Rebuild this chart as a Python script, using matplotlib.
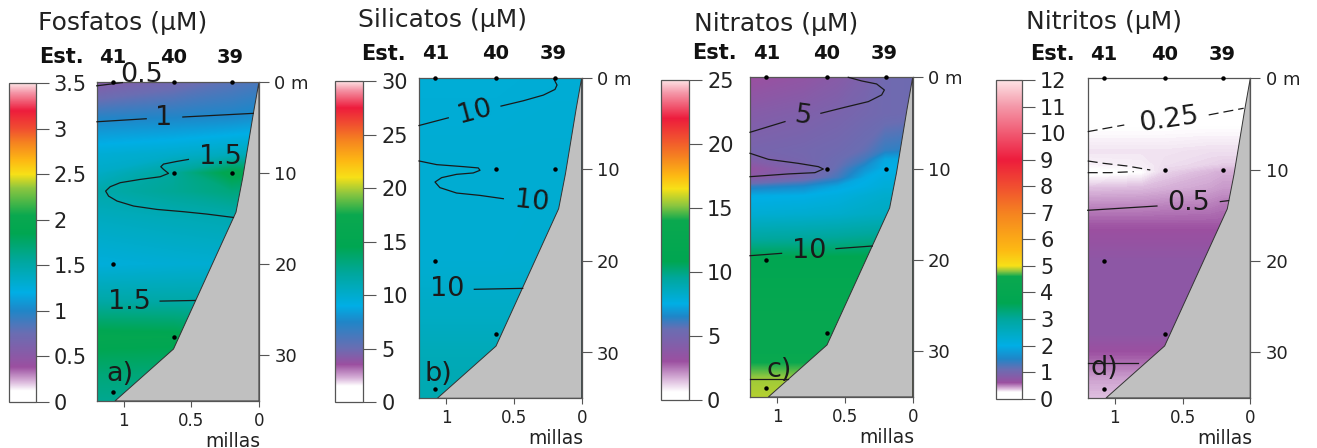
import numpy as np
import matplotlib
matplotlib.use('Agg')
import matplotlib.pyplot as plt
from matplotlib.cm import ScalarMappable
from matplotlib.colors import LinearSegmentedColormap, Normalize

W, H = 1317, 448
plt.rcParams['font.family'] = ['DejaVu Sans']

# colour sequence shared by the four colour scales
scale_colors = ['#ffffff', '#ffffff', '#d9b5da', '#9b4fa0', '#6a6db2', '#1f86c8',
                '#00aee5', '#00a79d', '#00a651', '#0aa84f', '#8dc63f', '#f7e017',
                '#fdb913', '#f58220', '#f04e30', '#ed1c3c', '#f497a8', '#fde4e6']
stops_a = [0, .12, .22, .38, .75, 1.0, 1.2, 1.55, 1.85, 2.05, 2.35, 2.5, 2.65, 2.85, 3.0, 3.2, 3.4, 3.5]
stops_b = [0, 1.5, 2.2, 3.5, 5, 7.5, 9, 12, 14.5, 17.5, 19.5, 21, 22.5, 24.5, 26, 27.5, 29.2, 30]
stops_c = [0, .6, 1.6, 3, 5.5, 6.5, 7.5, 9.5, 10.8, 14, 15.2, 16.5, 17.5, 19, 20.5, 22, 24, 25]
stops_d = [0, .25, .38, .6, 1.1, 1.5, 2, 3, 3.6, 4.6, 4.8, 5, 5.6, 7, 8, 9, 11, 12]

ticks_a = [0, .5, 1, 1.5, 2, 2.5, 3, 3.5]
ticks_b = [0, 5, 10, 15, 20, 25, 30]
ticks_c = [0, 5, 10, 15, 20, 25]
ticks_d = list(range(13))

# sections: distance (millas), depth (m), concentration
dist_a = [1.2, 0.63, 0.2, 0]
depth_a = [0, 4, 8, 10, 12, 15, 20, 24, 28, 32, 35]
conc_a = [[.52, .68, .8, .85],
          [.98, 1.0, 1.02, 1.05],
          [1.28, 1.33, 1.4, 1.42],
          [1.35, 1.55, 1.9, 1.85],
          [1.48, 1.58, 1.68, 1.65],
          [1.38, 1.42, 1.45, 1.45],
          [1.25, 1.28, 1.3, 1.3],
          [1.5, 1.5, 1.5, 1.5],
          [1.92, 1.9, 1.8, 1.8],
          [1.7, 1.7, 1.7, 1.7],
          [1.6, 1.6, 1.6, 1.6]]

dist_b = [1.2, 0.63, 0.2, 0]
depth_b = [0, 10, 20, 26, 30, 35]
conc_b = [[9.6, 9.6, 9.7, 9.7],
          [9.8, 9.8, 9.8, 9.8],
          [9.8, 9.8, 9.9, 9.9],
          [10.4, 10.4, 10.4, 10.4],
          [10.9, 10.9, 10.9, 10.9],
          [11.2, 11.2, 11.2, 11.2]]

dist_c = [1.2, 0.8, 0.55, 0.35, 0.2, 0]
depth_c = [0, 4, 8, 9, 10, 11, 12, 13, 15, 18, 20, 25, 30, 32, 33, 35]
conc_c = [[3.0, 3.5, 4.0, 4.6, 5.2, 5.3],
          [4.1, 4.4, 4.7, 5.0, 5.2, 5.3],
          [4.8, 5.0, 5.2, 5.6, 6.2, 6.4],
          [4.3, 4.9, 5.4, 6.0, 7.3, 7.4],
          [3.3, 4.6, 5.6, 6.8, 7.5, 7.5],
          [3.8, 5.0, 6.0, 7.4, 7.7, 7.7],
          [6.2, 6.6, 7.3, 7.6, 7.9, 7.9],
          [7.4, 7.5, 7.7, 8.0, 8.2, 8.2],
          [8.0, 8.1, 8.2, 8.4, 8.5, 8.5],
          [9.6, 9.7, 9.8, 9.9, 10, 10],
          [11, 11, 11, 11, 11, 11],
          [12.5, 12.5, 12.5, 12.5, 12.5, 12.5],
          [13, 13, 13, 13, 13, 13],
          [14.6, 14.6, 14.6, 14.6, 14.6, 14.6],
          [15.4, 15.4, 15.4, 15.4, 15.4, 15.4],
          [15.7, 15.7, 15.7, 15.7, 15.7, 15.7]]

dist_d = [1.2, 0.8, 0.63, 0.3, 0.2, 0]
depth_d = [0, 4, 8, 9.5, 10.3, 12, 14, 16, 20, 28, 30, 33, 35]
conc_d = [[.12, .12, .12, .12, .12, .12],
          [.22, .22, .22, .22, .22, .22],
          [.3, .3, .3, .31, .31, .31],
          [.27, .28, .31, .33, .34, .34],
          [.22, .25, .33, .38, .4, .4],
          [.36, .37, .39, .42, .44, .44],
          [.48, .48, .49, .5, .52, .52],
          [.58, .58, .58, .58, .58, .58],
          [.74, .74, .74, .74, .74, .74],
          [.74, .74, .74, .74, .74, .74],
          [.6, .6, .6, .6, .6, .6],
          [.42, .42, .42, .42, .42, .42],
          [.36, .36, .36, .36, .36, .36]]

# sea floor profile
floor_dist = [0, 0.042, 0.12, 0.17, 0.632, 1.065]
floor_depth = [0, 3.5, 10.5, 14.3, 29.3, 35]

# sampling points
sample_dist = [1.08, 0.632, 0.2, 0.632, 0.2, 1.08, 0.632, 1.08]
sample_depth = [0, 0, 0, 10, 10, 20, 28, 34]

# isolines: (distance, depth, dashed)
iso_a = [([1.2, 1.01], [.45, .1], False),
         ([1.198, .834], [4.39, 4.06], False),
         ([.563, .042], [3.87, 3.47], False),
         ([.522, .608, .706, .726, .706, .669, .731, .878, 1.026, 1.10, 1.134, 1.112, 1.05, .927, .755, .558, .386, .189],
          [8.52, 8.74, 9.03, 9.32, 9.61, 10.05, 10.42, 10.71, 11.07, 11.51, 11.99, 12.54, 13.08, 13.63, 14.0, 14.25, 14.51, 14.88], False),
         ([.731, .472], [24.05, 23.98], False)]
iso_b = [([1.2, .984], [5.22, 4.38], False),
         ([.595, .431, .283, .197, .182, .204], [3.10, 2.52, 1.9, 1.28, .8, .18], False),
         ([1.2, 1.07, .873, .763, .75, .8, .923, 1.033, 1.082, 1.046, .923, .75, .578],
          [9.09, 9.49, 9.71, 9.85, 10.11, 10.4, 10.55, 10.91, 11.39, 12.0, 12.59, 12.85, 13.21], False),
         ([.792, .435], [23.1, 23.0], False)]
iso_c = [([1.2, .942], [6.02, 4.85], False),
         ([.677, .5, .327, .229, .209, .266, .376, .475], [3.94, 3.28, 2.66, 1.93, 1.39, .73, .4, 0], False),
         ([1.2, 1.065, .844, .696, .659, .721, .918, 1.2], [8.32, 8.98, 9.42, 9.78, 10.04, 10.44, 10.58, 10.88], False),
         ([1.2, .967], [19.53, 19.27], False),
         ([.566, .298], [18.76, 18.47], False),
         ([1.2, .918], [33.07, 33.07], False)]
iso_d = [([1.2, .93], [5.84, 5.11], True),
         ([.307, .049], [4.01, 3.28], True),
         ([1.2, 1.082, .91, .738], [9.05, 9.31, 9.6, 10.04], True),
         ([1.2, 1.033, .861], [10.33, 10.33, 10.22], True),
         ([1.2, .689], [14.45, 13.98], False),
         ([.221, .16], [13.5, 13.39], False),
         ([1.2, .83], [31.2, 31.2], False)]

# isoline labels and panel letters: (distance, depth, text, rotation)
lab_a = [(.868, -.75, '0.5', 0), (.708, 4, '1', 0), (.288, 8.2, '1.5', 0), (.96, 24.2, '1.5', 0), (1.026, 32, 'a)', 0)]
lab_b = [(.787, 3.72, '10', 15), (.369, 13.6, '10', -6), (.991, 23.1, '10', 0), (1.058, 32.3, 'b)', 0)]
lab_c = [(.807, 4.3, '5', -8), (.763, 19, '10', 0), (.986, 32, 'c)', 0)]
lab_d = [(.603, 4.5, '0.25', 8), (.455, 13.7, '0.5', 0), (1.077, 31.75, 'd)', 0)]

titles = ['Fosfatos (µM)', 'Silicatos (µM)', 'Nitratos (µM)', 'Nitritos (µM)']
stations = ['41', '40', '39']
station_dist = [1.08, 0.635, 0.21]
depth_ticks = [0, 10, 20, 30]
depth_labels = ['0 m', '10', '20', '30']
dist_ticks = [1, 0.5, 0]
dist_labels = ['1', '0.5', '0']

# pixel boxes: axes (left, right, top, bottom), colour bar, title position, Est. position
panels = [
    dict(ax=(96.7, 259, 81.7, 401), cb=(9, 35.7, 83.3, 401.7), title=(38, 23), est=(39, 57),
         dist=dist_a, depth=depth_a, conc=conc_a, stops=stops_a, ticks=ticks_a, iso=iso_a, lab=lab_a),
    dict(ax=(419, 581.7, 77.7, 398.3), cb=(335.3, 363.3, 81, 402), title=(358, 20), est=(361, 54),
         dist=dist_b, depth=depth_b, conc=conc_b, stops=stops_b, ticks=ticks_b, iso=iso_b, lab=lab_b),
    dict(ax=(750, 912.7, 77.3, 397), cb=(661.3, 689, 80, 399.7), title=(694, 24), est=(692, 53),
         dist=dist_c, depth=depth_c, conc=conc_c, stops=stops_c, ticks=ticks_c, iso=iso_c, lab=lab_c),
    dict(ax=(1087.7, 1250.3, 78.3, 398), cb=(995.7, 1022, 80, 398.7), title=(1026, 22), est=(1030, 54),
         dist=dist_d, depth=depth_d, conc=conc_d, stops=stops_d, ticks=ticks_d, iso=iso_d, lab=lab_d),
]


def add_axes_px(fig, box):
    left, right, top, bottom = box
    return fig.add_axes([left / W, 1 - bottom / H, (right - left) / W, (bottom - top) / H])


fig = plt.figure(figsize=(W / 100, H / 100), dpi=100)
edge = '#555555'

for p, title in zip(panels, titles):
    vmax = p['stops'][-1]
    cmap = LinearSegmentedColormap.from_list(
        'nut', [(s / vmax, c) for s, c in zip(p['stops'], scale_colors)], N=2048)
    norm = Normalize(0, vmax)

    # section
    ax = add_axes_px(fig, p['ax'])
    ax.contourf(p['dist'], p['depth'], np.array(p['conc']), levels=np.linspace(0, vmax, 1500),
                cmap=cmap, norm=norm, antialiased=False)
    ax.fill(floor_dist + [1.065, 0], floor_depth + [35, 35], fc='#c0c0c0', ec='#333333', lw=0.7, zorder=2)
    for xs, ys, dashed in p['iso']:
        ax.plot(xs, ys, c='#1a1a1a', lw=0.9, ls=(0, (8, 4)) if dashed else '-', zorder=3, clip_on=False)
    ax.plot(sample_dist, sample_depth, 'o', ms=2.2, c='k', zorder=4, clip_on=False)
    for x, y, s, rot in p['lab']:
        ax.text(x, y, s, fontsize=19.5, rotation=rot, ha='center', va='center', color='#1a1a1a', zorder=5)
    ax.set_xlim(1.2, 0)
    ax.set_ylim(35, 0)
    ax.yaxis.tick_right()
    ax.set_yticks(depth_ticks, depth_labels, fontsize=13, color='#222222')
    ax.set_xticks(dist_ticks, dist_labels, fontsize=12, color='#222222')
    ax.tick_params(axis='y', length=7, width=0.8, color=edge, pad=4)
    ax.tick_params(axis='x', length=4, width=0.8, color=edge, pad=4)
    for s in ax.spines.values():
        s.set_color(edge)
        s.set_linewidth(0.9)
    for x, s in zip(station_dist, stations):
        ax.text(x, -2.6, s, fontsize=14, fontweight='bold', ha='center', va='center', color='#111111')
    ax.text(0.19, 39.4, 'millas', fontsize=13.5, ha='center', va='center', color='#222222')

    # colour bar
    cax = add_axes_px(fig, p['cb'])
    cb = fig.colorbar(ScalarMappable(norm=norm, cmap=cmap), cax=cax)
    cb.set_ticks(p['ticks'], labels=[f'{t:g}' for t in p['ticks']])
    cb.ax.tick_params(length=9, width=0.8, color=edge, pad=4, labelsize=15, labelcolor='#222222')
    cb.outline.set_edgecolor(edge)
    cb.outline.set_linewidth(0.9)

    tx, ty = p['title']
    fig.text(tx / W, 1 - ty / H, title, fontsize=18, ha='left', va='center', color='#222222')
    ex, ey = p['est']
    fig.text(ex / W, 1 - ey / H, 'Est.', fontsize=15, fontweight='bold', ha='left', va='center', color='#111111')

plt.savefig('out.png', dpi=100)
